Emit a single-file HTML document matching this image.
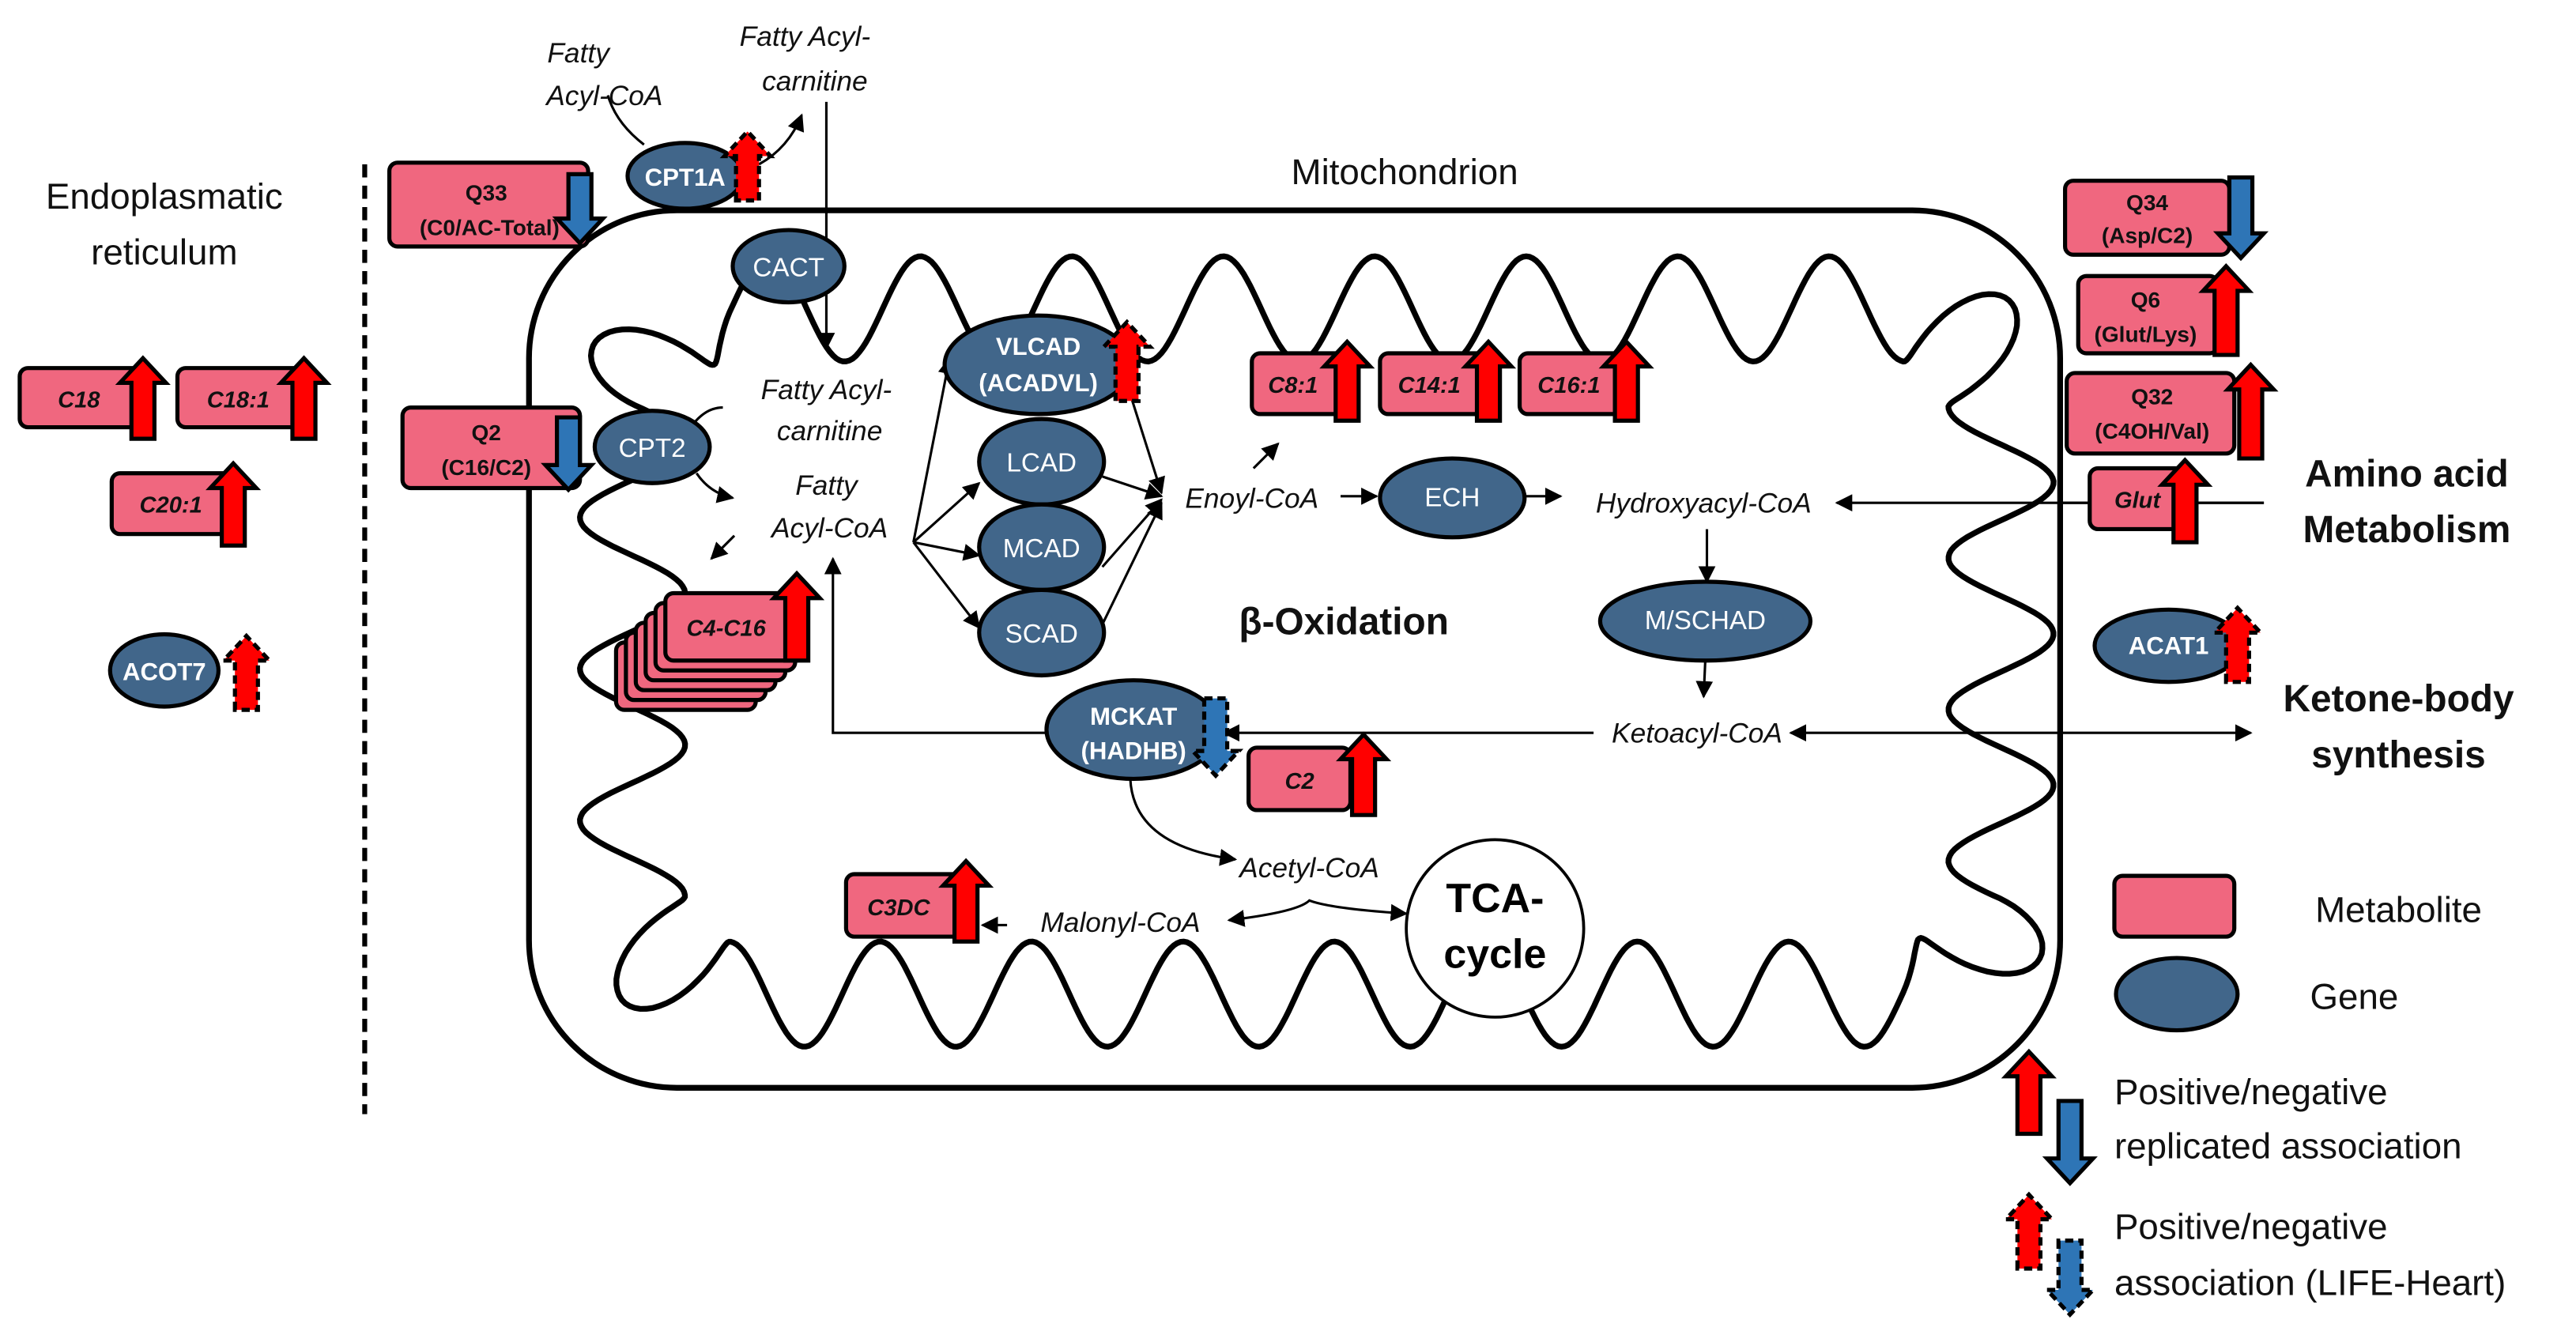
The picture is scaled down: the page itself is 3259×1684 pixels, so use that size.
<!DOCTYPE html>
<html><head><meta charset="utf-8"><style>
html,body{margin:0;padding:0;background:#fff;}
svg{display:block;}
text{font-family:"Liberation Sans",sans-serif;}
.it{font-style:italic;font-size:17px;fill:#111;}
.g{fill:#fff;font-size:16px;}
.gb{fill:#fff;font-size:15px;font-weight:bold;}
.m{font-style:italic;font-weight:bold;font-size:14px;fill:#111;}
.q{font-weight:bold;font-size:13.5px;fill:#111;}
.big{font-size:22px;fill:#111;}
.bold{font-size:23px;font-weight:bold;fill:#111;}
</style></head><body>
<svg id="s" width="3259" height="1684" viewBox="0 0 1568 810" preserveAspectRatio="none" xmlns="http://www.w3.org/2000/svg">
<defs>
<marker id="ah" viewBox="0 0 10 10" refX="9" refY="5" markerWidth="7" markerHeight="7" orient="auto-start-reverse"><path d="M0,0 L10,5 L0,10 z" fill="#000"/></marker>
</defs>
<text x="100" y="127" class="big" text-anchor="middle">Endoplasmatic</text>
<text x="100" y="161" class="big" text-anchor="middle">reticulum</text>
<line x1="222" y1="100" x2="222" y2="678" stroke="#000" stroke-width="3" stroke-dasharray="8,5"/>
<text x="855" y="112" class="big" text-anchor="middle">Mitochondrion</text>
<rect x="322" y="128" width="932" height="534" rx="90" fill="none" stroke="#000" stroke-width="3.5"/>
<path id="inner" fill="none" stroke="#000" stroke-width="3.5"/>
<g id="lines" stroke="#000" stroke-width="1.5" fill="none">
<path d="M370,58 Q375,75 392,88" />
<path d="M462,100 Q480,90 488,70" marker-end="url(#ah)"/>
<line x1="503" y1="62" x2="503" y2="212" marker-end="url(#ah)"/>
<path d="M422,258 Q430,248 440,248"/>
<path d="M424,288 Q432,300 446,303" marker-end="url(#ah)"/>
<line x1="447" y1="326" x2="433" y2="340" marker-end="url(#ah)"/>
<line x1="556" y1="330" x2="578" y2="218" marker-end="url(#ah)"/>
<line x1="556" y1="330" x2="596" y2="294" marker-end="url(#ah)"/>
<line x1="556" y1="330" x2="596" y2="338" marker-end="url(#ah)"/>
<line x1="556" y1="330" x2="596" y2="382" marker-end="url(#ah)"/>
<line x1="688" y1="240" x2="707" y2="300" marker-end="url(#ah)"/>
<line x1="671" y1="290" x2="707" y2="302" marker-end="url(#ah)"/>
<line x1="671" y1="345" x2="707" y2="304" marker-end="url(#ah)"/>
<line x1="671" y1="380" x2="707" y2="306" marker-end="url(#ah)"/>
<line x1="763" y1="285" x2="778" y2="270" marker-end="url(#ah)"/>
<line x1="816" y1="302" x2="838" y2="302" marker-end="url(#ah)"/>
<line x1="928" y1="302" x2="950" y2="302" marker-end="url(#ah)"/>
<line x1="1378" y1="306" x2="1118" y2="306" marker-end="url(#ah)"/>
<line x1="1039" y1="322" x2="1039" y2="354" marker-end="url(#ah)"/>
<line x1="1038" y1="402" x2="1037" y2="424" marker-end="url(#ah)"/>
<line x1="1090" y1="446" x2="1370" y2="446" marker-start="url(#ah)" marker-end="url(#ah)"/>
<line x1="970" y1="446" x2="745" y2="446" marker-end="url(#ah)"/>
<polyline points="637,446 507,446 507,340" marker-end="url(#ah)"/>
<line x1="795" y1="486" x2="795" y2="468" marker-end="url(#ah)"/>
<path d="M688,474 Q690,515 752,523" marker-end="url(#ah)"/>
<path d="M748,560 Q790,555 797,548 Q810,553 856,556" marker-start="url(#ah)" marker-end="url(#ah)"/>
<line x1="613" y1="563" x2="598" y2="563" marker-end="url(#ah)"/>
<circle cx="910" cy="565" r="54" stroke-width="1.8" fill="#fff"/>
<line x1="1254" y1="306" x2="1378" y2="306"/>
</g>
<text x="352" y="38" class="it" text-anchor="middle">Fatty</text>
<text x="368" y="64" class="it" text-anchor="middle">Acyl-CoA</text>
<text x="490" y="28" class="it" text-anchor="middle">Fatty Acyl-</text>
<text x="496" y="55" class="it" text-anchor="middle">carnitine</text>
<text x="503" y="243" class="it" text-anchor="middle">Fatty Acyl-</text>
<text x="505" y="268" class="it" text-anchor="middle">carnitine</text>
<text x="503" y="301" class="it" text-anchor="middle">Fatty</text>
<text x="505" y="327" class="it" text-anchor="middle">Acyl-CoA</text>
<text x="762" y="309" class="it" text-anchor="middle">Enoyl-CoA</text>
<text x="1037" y="312" class="it" text-anchor="middle">Hydroxyacyl-CoA</text>
<text x="1033" y="452" class="it" text-anchor="middle">Ketoacyl-CoA</text>
<text x="797" y="534" class="it" text-anchor="middle">Acetyl-CoA</text>
<text x="682" y="567" class="it" text-anchor="middle">Malonyl-CoA</text>
<text x="818" y="386" class="bold" text-anchor="middle">β-Oxidation</text>
<text x="910" y="555" font-size="25" font-weight="bold" text-anchor="middle">TCA-</text>
<text x="910" y="589" font-size="25" font-weight="bold" text-anchor="middle">cycle</text>
<text x="1465" y="296" class="bold" text-anchor="middle">Amino acid</text>
<text x="1465" y="330" class="bold" text-anchor="middle">Metabolism</text>
<text x="1460" y="433" class="bold" text-anchor="middle">Ketone-body</text>
<text x="1460" y="467" class="bold" text-anchor="middle">synthesis</text>
<text x="1460" y="561" class="big" text-anchor="middle">Metabolite</text>
<text x="1433" y="614" class="big" text-anchor="middle">Gene</text>
<text x="1287" y="672" class="big">Positive/negative</text>
<text x="1287" y="705" class="big">replicated association</text>
<text x="1287" y="754" class="big">Positive/negative</text>
<text x="1287" y="788" class="big">association (LIFE-Heart)</text>
<g id="shapes"></g>
<g id="labels">
<text x="48" y="248" class="m" text-anchor="middle">C18</text>
<text x="145" y="248" class="m" text-anchor="middle">C18:1</text>
<text x="104" y="312" class="m" text-anchor="middle">C20:1</text>
<text x="100" y="414" class="gb" text-anchor="middle">ACOT7</text>
<text x="296" y="122" class="q" text-anchor="middle">Q33</text>
<text x="298" y="143" class="q" text-anchor="middle">(C0/AC-Total)</text>
<text x="417" y="113" class="gb" text-anchor="middle">CPT1A</text>
<text x="480" y="168" class="g" text-anchor="middle">CACT</text>
<text x="296" y="268" class="q" text-anchor="middle">Q2</text>
<text x="296" y="289" class="q" text-anchor="middle">(C16/C2)</text>
<text x="397" y="278" class="g" text-anchor="middle">CPT2</text>
<text x="442" y="387" class="m" text-anchor="middle">C4-C16</text>
<text x="632" y="216" class="gb" text-anchor="middle">VLCAD</text>
<text x="632" y="238" class="gb" text-anchor="middle">(ACADVL)</text>
<text x="634" y="287" class="g" text-anchor="middle">LCAD</text>
<text x="634" y="339" class="g" text-anchor="middle">MCAD</text>
<text x="634" y="391" class="g" text-anchor="middle">SCAD</text>
<text x="787" y="239" class="m" text-anchor="middle">C8:1</text>
<text x="870" y="239" class="m" text-anchor="middle">C14:1</text>
<text x="955" y="239" class="m" text-anchor="middle">C16:1</text>
<text x="884" y="308" class="g" text-anchor="middle">ECH</text>
<text x="1038" y="383" class="g" text-anchor="middle">M/SCHAD</text>
<text x="690" y="441" class="gb" text-anchor="middle">MCKAT</text>
<text x="690" y="462" class="gb" text-anchor="middle">(HADHB)</text>
<text x="791" y="480" class="m" text-anchor="middle">C2</text>
<text x="547" y="557" class="m" text-anchor="middle">C3DC</text>
<text x="1307" y="128" class="q" text-anchor="middle">Q34</text>
<text x="1307" y="148" class="q" text-anchor="middle">(Asp/C2)</text>
<text x="1306" y="187" class="q" text-anchor="middle">Q6</text>
<text x="1306" y="208" class="q" text-anchor="middle">(Glut/Lys)</text>
<text x="1310" y="246" class="q" text-anchor="middle">Q32</text>
<text x="1310" y="267" class="q" text-anchor="middle">(C4OH/Val)</text>
<text x="1301" y="309" class="m" text-anchor="middle">Glut</text>
<text x="1320" y="398" class="gb" text-anchor="middle">ACAT1</text>
</g>
</svg>
<script>
(function(){
var NS="http://www.w3.org/2000/svg";
var S=document.getElementById('shapes');
var PINK="#f0677f",GENE="#41668a",RED="#ff0000",BLUE="#2e75b6";
function el(t,a,p){var e=document.createElementNS(NS,t);for(var k in a)e.setAttribute(k,a[k]);(p||S).appendChild(e);return e;}
function box(x,y,w,h){el('rect',{x:x,y:y,width:w,height:h,rx:5,fill:PINK,stroke:'#000','stroke-width':2.5});}
function gene(cx,cy,rx,ry){el('ellipse',{cx:cx,cy:cy,rx:rx,ry:ry,fill:GENE,stroke:'#000','stroke-width':2.5});}
function arrow(x,y1,y2,up,color,dashed){
 var sw=7,hw=14,hh=15,d;
 if(up){d='M'+(x-sw)+','+y2+' L'+(x-sw)+','+(y1+hh)+' L'+(x-hw)+','+(y1+hh)+' L'+x+','+y1+' L'+(x+hw)+','+(y1+hh)+' L'+(x+sw)+','+(y1+hh)+' L'+(x+sw)+','+y2+' Z';}
 else{d='M'+(x-sw)+','+y1+' L'+(x-sw)+','+(y2-hh)+' L'+(x-hw)+','+(y2-hh)+' L'+x+','+y2+' L'+(x+hw)+','+(y2-hh)+' L'+(x+sw)+','+(y2-hh)+' L'+(x+sw)+','+y1+' Z';}
 var a={d:d,fill:color,stroke:'#000','stroke-width':2.5,'stroke-linejoin':'miter'};
 if(dashed)a['stroke-dasharray']='5,3';
 el('path',a);
}
box(12,224,76,36);arrow(87,218,267,1,RED);
box(108,224,80,36);arrow(185,218,267,1,RED);
box(68,288,78,37);arrow(142,282,332,1,RED);
gene(100,408,33,22);arrow(150,387,432,1,RED,1);
box(237,99,121,51);arrow(353,106,148,0,BLUE);
gene(417,107,35,20);arrow(455,80,122,1,RED,1);
gene(480,162,34,22);
box(245,248,108,49);arrow(346,254,298,0,BLUE);
gene(397,272,35,22);
for(var i=5;i>=0;i--){box(405-i*6,361+i*6,85,41);}
arrow(485,349,402,1,RED);
gene(632,222,57,30);arrow(686,196,244,1,RED,1);
gene(634,281,38,26);gene(634,333,38,26);gene(634,385,38,26);
box(762,215,58,37);arrow(820,208,256,1,RED);
box(840,215,70,37);arrow(906,208,256,1,RED);
box(925,215,70,37);arrow(990,208,256,1,RED);
gene(884,303,44,24);gene(1038,378,64,24);
gene(690,444,53,30);arrow(740,425,472,0,BLUE,1);
box(760,455,62,38);arrow(830,447,496,1,RED);
box(515,532,75,38);arrow(588,524,573,1,RED);
box(1257,110,100,45);arrow(1364,108,157,0,BLUE);
box(1265,168,85,47);arrow(1355,162,216,1,RED);
box(1258,227,102,49);arrow(1370,222,279,1,RED);
box(1272,285,58,37);arrow(1330,280,330,1,RED);
gene(1320,393,45,22);arrow(1362,370,415,1,RED,1);
box(1287,533,73,37);gene(1325,605,37,22);
arrow(1235,640,690,1,RED);arrow(1260,670,720,0,BLUE);
arrow(1235,727,772,1,RED,1);arrow(1260,755,800,0,BLUE,1);
var x0=385,x1=1218,y0=188,y1=605,r=60;
var L1=x1-x0-2*r,L2=y1-y0-2*r,arc=Math.PI*r/2;
var P=2*L1+2*L2+4*arc;
function pos(s){
 s=((s%P)+P)%P;
 if(s<L1)return [x0+r+s,y0,0,-1]; s-=L1;
 if(s<arc){var t=s/r-Math.PI/2;return [x1-r+r*Math.cos(t),y0+r+r*Math.sin(t),Math.cos(t),Math.sin(t)];} s-=arc;
 if(s<L2)return [x1,y0+r+s,1,0]; s-=L2;
 if(s<arc){var t=s/r;return [x1-r+r*Math.cos(t),y1-r+r*Math.sin(t),Math.cos(t),Math.sin(t)];} s-=arc;
 if(s<L1)return [x1-r-s,y1,0,1]; s-=L1;
 if(s<arc){var t=s/r+Math.PI/2;return [x0+r+r*Math.cos(t),y1-r+r*Math.sin(t),Math.cos(t),Math.sin(t)];} s-=arc;
 if(s<L2)return [x0,y1-r-s,-1,0]; s-=L2;
 var t=s/r+Math.PI;return [x0+r+r*Math.cos(t),y0+r+r*Math.sin(t),Math.cos(t),Math.sin(t)];
}
var n=Math.round(P/92),d='';
for(var s=0;s<=P;s+=2){var p=pos(s);var o=32*Math.sin(2*Math.PI*n*s/P);d+=(s?'L':'M')+(p[0]+p[2]*o).toFixed(1)+','+(p[1]+p[3]*o).toFixed(1);}
document.getElementById('inner').setAttribute('d',d+'Z');
})();
</script>
</body></html>
